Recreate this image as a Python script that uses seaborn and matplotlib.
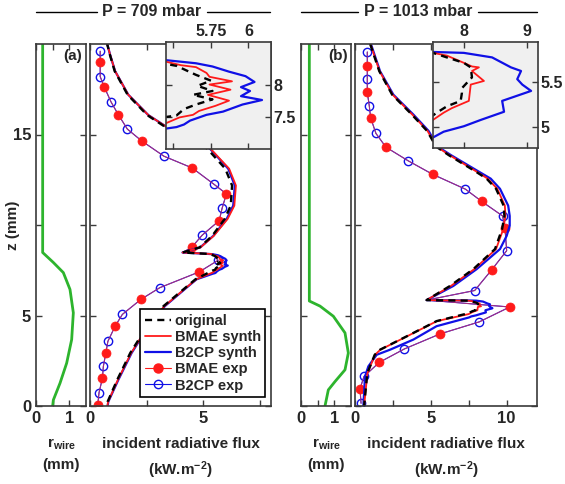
import numpy as np
import pandas as pd
import seaborn as sns
import matplotlib.pyplot as plt
from matplotlib.lines import Line2D

# ---------------- panel (a): P = 709 mbar ----------------
z_wire_a = [20.0, 8.48, 7.93, 7.37, 6.44, 5.15, 3.67, 2.37, 1.26, 0.33, 0.0]
r_wire_a = [0.20, 0.20, 0.52, 0.82, 1.02, 1.12, 1.07, 0.92, 0.72, 0.52, 0.50]

z_orig_a = [20.1, 19.4, 18.5, 17.2, 16.07, 15.48, 14.85, 14.22, 13.11, 12.18, 11.07, 10.33, 9.4, 8.76, 8.48, 8.40,
            8.32, 8.29, 8.15, 8.06, 7.98, 7.90, 7.84, 7.77, 7.69, 7.62, 7.52, 7.49,
            7.0, 6.54, 5.52, 4.4, 2.93, 1.44, 0.24, 0.0]
f_orig_a = [0.74, 0.88, 1.09, 1.66, 2.53, 3.25, 4.22, 5.18, 5.98, 6.28, 6.22, 5.95, 5.40, 4.84, 4.09, 5.30,
            5.45, 5.52, 5.65, 5.75, 5.66, 5.76, 5.63, 5.76, 5.65, 5.57, 5.52, 5.43,
            4.66, 4.22, 3.25, 2.52, 1.78, 1.20, 0.78, 0.76]

z_bmae_a = [20.1, 19.4, 18.5, 17.2, 16.07, 15.48, 14.85, 14.22, 13.11, 12.18, 11.07, 10.33, 9.4, 8.76, 8.48, 8.40,
            8.36, 8.30, 8.27, 8.18, 8.12, 8.05, 8.00, 7.92, 7.84, 7.75, 7.67, 7.59, 7.53, 7.49, 7.38,
            7.0, 6.54, 5.52, 4.4, 2.93, 1.44, 0.24, 0.0]
f_bmae_a = [0.74, 0.89, 1.11, 1.69, 2.58, 3.31, 4.32, 5.32, 6.15, 6.45, 6.38, 6.08, 5.47, 4.88, 4.09, 5.35,
            5.44, 5.55, 5.65, 5.72, 5.74, 5.89, 5.74, 5.88, 5.73, 5.87, 5.78, 5.67, 5.63, 5.54, 5.43,
            4.70, 4.25, 3.29, 2.56, 1.82, 1.23, 0.80, 0.77]

z_b2cp_a = [20.1, 19.4, 18.5, 17.2, 16.07, 15.48, 14.85, 14.22, 13.11, 12.18, 11.07, 10.33, 9.4, 8.76, 8.48, 8.39,
            8.33, 8.28, 8.20, 8.13, 8.04, 7.96, 7.90, 7.82, 7.76, 7.69, 7.58, 7.53, 7.44, 7.38, 7.34, 7.31,
            7.0, 6.54, 5.52, 4.4, 2.93, 1.44, 0.24, 0.0]
f_b2cp_a = [0.74, 0.89, 1.11, 1.69, 2.58, 3.31, 4.30, 5.30, 6.11, 6.40, 6.33, 6.04, 5.45, 4.87, 4.09, 5.40,
            5.65, 5.76, 5.87, 5.98, 6.04, 5.95, 6.01, 5.95, 6.09, 5.96, 5.83, 5.72, 5.61, 5.57, 5.52, 5.43,
            4.71, 4.27, 3.31, 2.58, 1.84, 1.25, 0.81, 0.78]

# measured points (markers) and the notch the measured line also passes through
z_bmae_exp_a = [19.0, 17.6, 16.1, 14.65, 13.15, 11.72, 10.24, 8.76, 7.41, 5.89, 4.41, 2.93, 1.54, 0.05]
f_bmae_exp_a = [0.45, 0.64, 1.25, 2.28, 4.52, 6.03, 5.71, 4.49, 4.83, 2.25, 1.11, 0.70, 0.55, 0.34]
z_b2cp_exp_a = [19.6, 18.2, 16.8, 15.3, 13.8, 12.24, 10.93, 9.44, 8.05, 6.54, 5.06, 3.57, 2.19, 0.74]
f_b2cp_exp_a = [0.45, 0.45, 0.93, 1.65, 3.27, 5.49, 5.84, 4.96, 5.66, 3.09, 1.43, 0.79, 0.59, 0.40]
z_notch_a = [8.48, 8.39]
f_notch_a = [4.09, 5.45]

# ---------------- panel (b): P = 1013 mbar ----------------
z_wire_b = [20.0, 5.8, 5.52, 4.96, 4.04, 2.93, 2.0, 1.35, 0.89, 0.0]
r_wire_b = [0.25, 0.25, 0.57, 0.97, 1.32, 1.42, 1.32, 1.02, 0.82, 0.72]

z_orig_b = [20.0, 18.5, 17.2, 16.1, 15.2, 14.33, 13.85, 12.93, 12.56, 12.0, 11.07, 10.5, 9.78, 8.67, 7.56, 6.63, 5.85, 5.82,
            5.77, 5.71, 5.66, 5.55, 5.43, 5.38, 5.29, 5.23, 5.16, 5.13,
            4.69, 3.85, 3.11, 2.83, 1.81, 0.0]
f_orig_b = [1.0, 1.6, 2.45, 3.75, 4.75, 5.35, 6.2, 8.0, 8.68, 9.3, 9.8, 9.85, 9.7, 9.23, 7.8, 6.26, 4.72, 7.5,
            7.72, 7.99, 8.10, 8.12, 7.96, 7.96, 7.94, 7.72, 7.56, 7.5,
            5.38, 3.41, 1.65, 1.30, 0.81, 0.60]

z_bmae_b = [20.0, 18.5, 17.2, 16.1, 15.2, 14.33, 13.85, 12.93, 12.56, 12.0, 11.07, 10.5, 9.78, 8.67, 7.56, 6.63, 5.85, 5.82,
            5.79, 5.71, 5.67, 5.66, 5.62, 5.51, 5.47, 5.29, 5.21, 5.16, 5.08,
            4.69, 3.85, 3.11, 2.83, 1.81, 0.0]
f_bmae_b = [1.02, 1.62, 2.48, 3.78, 4.78, 5.38, 6.25, 8.05, 8.75, 9.38, 9.88, 9.92, 9.78, 9.3, 7.86, 6.32, 4.72, 7.5,
            7.72, 7.99, 8.12, 8.23, 8.12, 8.31, 8.10, 8.07, 7.80, 7.67, 7.5,
            5.40, 3.43, 1.67, 1.32, 0.82, 0.60]

z_b2cp_b = [20.0, 18.5, 17.2, 16.1, 15.2, 14.33, 13.85, 12.93, 12.56, 12.0, 11.07, 10.5, 9.96, 9.4, 8.67, 7.56, 6.63, 5.85, 5.83,
            5.82, 5.77, 5.66, 5.62, 5.53, 5.47, 5.40, 5.29, 5.17, 5.08, 5.01, 4.95, 4.89,
            4.41, 3.67, 3.11, 2.83, 2.19, 1.63, 0.0]
f_b2cp_b = [1.05, 1.65, 2.53, 3.85, 4.85, 5.45, 6.35, 8.2, 8.95, 9.56, 10.1, 10.2, 10.2, 10.0, 9.56, 8.02, 6.48, 4.72, 7.5,
            7.99, 8.44, 8.74, 8.90, 8.84, 8.92, 9.06, 8.60, 8.63, 8.26, 7.99, 7.67, 7.51,
            5.38, 3.85, 2.31, 1.43, 0.88, 0.66, 0.55]

z_bmae_exp_b = [18.8, 17.33, 15.93, 14.3, 12.8, 11.3, 9.81, 7.54, 5.47, 3.98, 2.41, 0.94]
f_bmae_exp_b = [0.81, 0.81, 1.03, 2.04, 5.12, 8.36, 9.89, 9.03, 10.2, 5.6, 1.6, 0.33]
z_b2cp_exp_b = [19.56, 18.07, 16.59, 15.06, 13.54, 11.98, 10.5, 8.58, 6.38, 4.65, 3.15, 1.63, 0.15]
f_b2cp_exp_b = [0.81, 0.81, 0.94, 1.38, 3.52, 7.28, 9.73, 10.0, 7.89, 8.2, 3.25, 0.59, 0.40]
z_notch_b = [5.85]
f_notch_b = [4.72]

titles = ['P = 709 mbar', 'P = 1013 mbar']
panel_tags = ['(a)', '(b)']

sns.set_style('ticks')
plt.rcParams['font.family'] = ['Liberation Sans', 'DejaVu Sans']
plt.rcParams['font.weight'] = 'bold'
plt.rcParams['axes.labelweight'] = 'bold'
plt.rcParams['mathtext.fontset'] = 'custom'
plt.rcParams['mathtext.rm'] = 'Liberation Sans:bold'
plt.rcParams['mathtext.bf'] = 'Liberation Sans:bold'
plt.rcParams['mathtext.it'] = 'Liberation Sans:bold'
plt.rcParams['mathtext.default'] = 'rm'

FRAME = '#3a3a3a'
RED = '#ff1a1a'
BLUE = '#1010e6'
GREEN = '#2db42d'
W, H = 565, 484


def px(x0, y0, x1, y1):
    return [x0 / W, 1 - y1 / H, (x1 - x0) / W, (y1 - y0) / H]


def style_axes(ax, fs=12):
    for s in ax.spines.values():
        s.set_color(FRAME)
        s.set_linewidth(1.2)
        s.set_visible(True)
    ax.tick_params(direction='in', length=4, width=1, color=FRAME, labelcolor='#262626',
                   top=True, right=True, labelsize=fs)


def exp_profile(z_own, f_own, z_other, f_other, z_n, f_n):
    # the measured line runs through both probes' points; markers only on its own ones
    df = pd.DataFrame({'z': list(z_own) + list(z_other) + list(z_n),
                       'f': list(f_own) + list(f_other) + list(f_n),
                       'own': [True] * len(z_own) + [False] * (len(z_other) + len(z_n))})
    df = df.sort_values('z', ascending=False, kind='stable').reset_index(drop=True)
    return df, list(np.flatnonzero(df['own'].values))


def draw_synth(ax, z_o, f_o, z_r, f_r, z_b, f_b, lab=False):
    lbl = (lambda s: s) if lab else (lambda s: None)
    sns.lineplot(x=f_b, y=z_b, sort=False, estimator=None, ax=ax, color=BLUE, lw=1.6,
                 label=lbl('B2CP synth'), legend=False)
    sns.lineplot(x=f_r, y=z_r, sort=False, estimator=None, ax=ax, color=RED, lw=1.3,
                 label=lbl('BMAE synth'), legend=False)
    sns.lineplot(x=f_o, y=z_o, sort=False, estimator=None, ax=ax, color='black', lw=1.7,
                 linestyle=(0, (3.0, 2.2)), label=lbl('original'), legend=False)


def draw_exp(ax, zer, fer, zeb, feb, zn, fn, lab=False):
    lbl = (lambda s: s) if lab else (lambda s: None)
    dfb, mb = exp_profile(zeb, feb, zer, fer, zn, fn)
    dfr, mr = exp_profile(zer, fer, zeb, feb, zn, fn)
    sns.lineplot(data=dfb, x='f', y='z', sort=False, estimator=None, ax=ax, color=BLUE, lw=0.8,
                 marker='o', markevery=mb, ms=6, mfc='none', mec=BLUE, mew=1.0,
                 label=lbl('B2CP exp'), legend=False)
    sns.lineplot(data=dfr, x='f', y='z', sort=False, estimator=None, ax=ax, color='#c0306a',
                 lw=0.7, alpha=0.9, legend=False)
    sns.lineplot(data=dfr, x='f', y='z', sort=False, estimator=None, ax=ax, color=RED, lw=0,
                 marker='o', markevery=mr, ms=6.5, mfc=RED, mec=RED, mew=0.5, legend=False)
    # legend proxy for the measured BMAE profile
    return Line2D([], [], color=RED, lw=0.8, marker='o', ms=6.5, mfc=RED, mec=RED)


fig = plt.figure(figsize=(W / 100, H / 100), dpi=100)

panels = [
    dict(wire=(z_wire_a, r_wire_a),
         synth=(z_orig_a, f_orig_a, z_bmae_a, f_bmae_a, z_b2cp_a, f_b2cp_a),
         exp=(z_bmae_exp_a, f_bmae_exp_a, z_b2cp_exp_a, f_b2cp_exp_a, z_notch_a, f_notch_a),
         pos_w=px(36, 44, 86, 406), pos_f=px(90, 44, 271, 406), pos_i=px(166, 42, 271, 149),
         fmax=8, fticks=[0, 2.5, 5, 7.5], flabels=['0', '', '5', ''],
         ixlim=(5.45, 6.15), iylim=(7.0, 8.66), ixt=[5.5, 5.75, 6], ixl=['', '5.75', '6'],
         iyt=[7.5, 8], iyl=['7.5', '8'], title_x=(36, 270), gap=(97, 207)),
    dict(wire=(z_wire_b, r_wire_b),
         synth=(z_orig_b, f_orig_b, z_bmae_b, f_bmae_b, z_b2cp_b, f_b2cp_b),
         exp=(z_bmae_exp_b, f_bmae_exp_b, z_b2cp_exp_b, f_b2cp_exp_b, z_notch_b, f_notch_b),
         pos_w=px(301, 44, 351, 406), pos_f=px(355, 44, 537, 406), pos_i=px(433, 42, 538, 148),
         fmax=12, fticks=[0, 2.5, 5, 7.5, 10], flabels=['0', '', '5', '', '10'],
         ixlim=(7.5, 9.17), iylim=(4.77, 5.94), ixt=[8, 9], ixl=['8', '9'],
         iyt=[5, 5.5], iyl=['5', '5.5'], title_x=(301, 537), gap=(358, 478)),
]

for k, p in enumerate(panels):
    # wire radius
    axw = fig.add_axes(p['pos_w'])
    sns.lineplot(x=p['wire'][1], y=p['wire'][0], sort=False, estimator=None, ax=axw,
                 color=GREEN, lw=2.0, legend=False)
    axw.set_xlim(0, 1.5)
    axw.set_ylim(0, 20)
    axw.set_xticks([0, 0.5, 1])
    axw.set_xticklabels(['0', '', '1'])
    axw.set_yticks([0, 5, 10, 15])
    if k == 0:
        axw.set_yticklabels(['0', '5', '', '15'])
        axw.set_ylabel('z (mm)', fontsize=11)
        axw.yaxis.set_label_coords(-0.33, 0.5)
    else:
        axw.set_yticklabels([])
    axw.set_xlabel('$\\mathrm{r_{wire}}$\n(mm)', fontsize=11, linespacing=1.55, labelpad=8)
    style_axes(axw)
    axw.text(0.93, 0.985, panel_tags[k], transform=axw.transAxes, ha='right', va='top',
             fontsize=11, fontweight='bold')

    # flux profiles
    axf = fig.add_axes(p['pos_f'])
    bmae_exp_handle = draw_exp(axf, *p['exp'], lab=(k == 0))
    draw_synth(axf, *p['synth'], lab=(k == 0))
    axf.set_xlim(0, p['fmax'])
    axf.set_ylim(0, 20)
    axf.set_xticks(p['fticks'])
    axf.set_xticklabels(p['flabels'])
    axf.set_yticks([0, 5, 10, 15])
    axf.set_yticklabels([])
    axf.set_xlabel('incident radiative flux\n(kW.m$^{-2}$)', fontsize=11, linespacing=1.55,
                   labelpad=8)
    axf.set_ylabel('')
    style_axes(axf)

    if k == 0:
        h, l = axf.get_legend_handles_labels()
        hd = dict(zip(l, h))
        hd['BMAE exp'] = bmae_exp_handle
        order = ['original', 'BMAE synth', 'B2CP synth', 'BMAE exp', 'B2CP exp']
        leg = axf.legend([hd[o] for o in order], order, loc='lower right',
                         bbox_to_anchor=(0.967, 0.025), borderaxespad=0, fancybox=False,
                         framealpha=1, edgecolor='black', fontsize=10.5, handlelength=1.8,
                         handletextpad=0.25, labelspacing=0.15, borderpad=0.3)
        leg.get_frame().set_linewidth(1.2)

    # zoomed inset (synthetic profiles only)
    axi = fig.add_axes(p['pos_i'])
    axi.set_facecolor('#f0f0f0')
    draw_synth(axi, *p['synth'])
    axi.set_xlim(*p['ixlim'])
    axi.set_ylim(*p['iylim'])
    axi.set_xticks(p['ixt'])
    axi.set_xticklabels(p['ixl'])
    axi.set_yticks(p['iyt'])
    axi.set_yticklabels(p['iyl'])
    axi.set_xlabel('')
    axi.set_ylabel('')
    style_axes(axi, fs=11.5)
    axi.tick_params(labeltop=True, labelbottom=False, labelright=True, labelleft=False, pad=2)

    # title with side rules
    x0, x1 = p['title_x']
    g0, g1 = p['gap']
    yt = 1 - 12 / H
    fig.text((g0 + g1) / 2 / W, yt, titles[k], ha='center', va='center', fontsize=11.5,
             fontweight='bold')
    fig.add_artist(Line2D([x0 / W, g0 / W], [yt, yt], color='black', lw=1))
    fig.add_artist(Line2D([g1 / W, x1 / W], [yt, yt], color='black', lw=1))

fig.savefig('out.png', dpi=100)
